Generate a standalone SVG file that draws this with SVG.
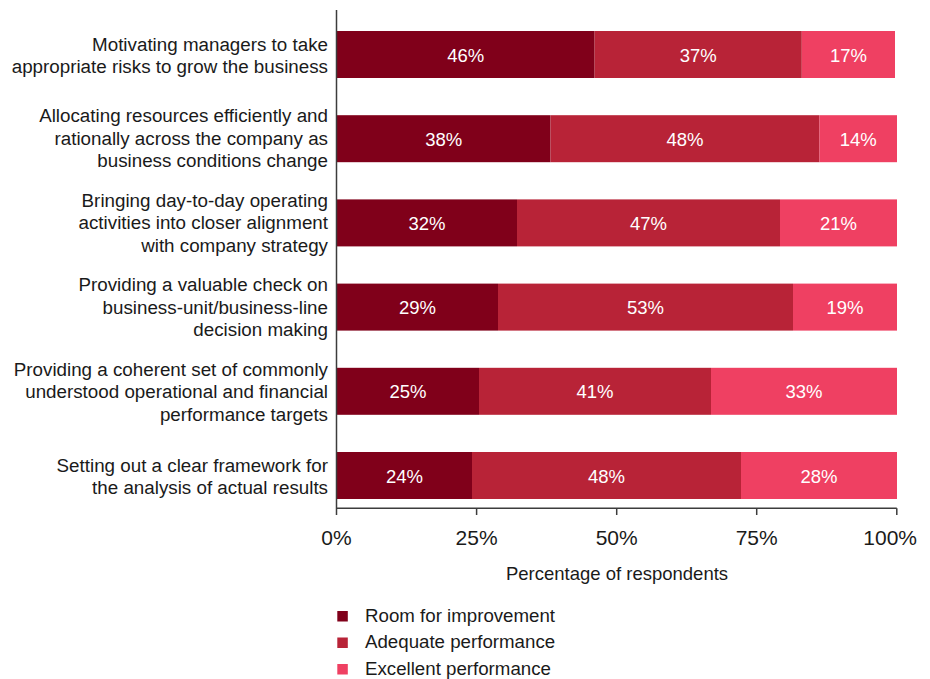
<svg xmlns="http://www.w3.org/2000/svg" width="930" height="679" viewBox="0 0 930 679">
<style>
.lbl{font-family:"Liberation Sans",Arial,sans-serif;font-size:18.8px;fill:#1a1a1a;text-anchor:end}
.val{font-family:"Liberation Sans",Arial,sans-serif;font-size:18.5px;fill:#ffffff;text-anchor:middle}
.tick{font-family:"Liberation Sans",Arial,sans-serif;font-size:21px;fill:#1a1a1a;text-anchor:middle}
.ttl{font-family:"Liberation Sans",Arial,sans-serif;font-size:18.5px;fill:#1a1a1a;text-anchor:middle}
.leg{font-family:"Liberation Sans",Arial,sans-serif;font-size:18.7px;fill:#1a1a1a}
.c1{fill:#80001a}
.c2{fill:#b82337}
.c3{fill:#ef4062}
.ax{stroke:#3c3c3c;stroke-width:1.5;fill:none}
</style>
<rect width="930" height="679" fill="#ffffff"/>

<g id="row1">
<text class="lbl" x="328" y="51">Motivating managers to take</text>
<text class="lbl" x="328" y="73">appropriate risks to grow the business</text>
<rect class="c1" x="337" y="31" width="257.6" height="47"/>
<rect class="c2" x="594.6" y="31" width="207.2" height="47"/>
<rect class="c3" x="801.8" y="31" width="93.2" height="47"/>
<text class="val" x="465.8" y="61.5">46%</text>
<text class="val" x="698.2" y="61.5">37%</text>
<text class="val" x="848.4" y="61.5">17%</text>
</g>

<g id="row2">
<text class="lbl" x="328" y="122">Allocating resources efficiently and</text>
<text class="lbl" x="328" y="144.5">rationally across the company as</text>
<text class="lbl" x="328" y="167">business conditions change</text>
<rect class="c1" x="337" y="115.2" width="213.5" height="47"/>
<rect class="c2" x="550.5" y="115.2" width="269" height="47"/>
<rect class="c3" x="819.5" y="115.2" width="77.5" height="47"/>
<text class="val" x="443.8" y="145.7">38%</text>
<text class="val" x="685" y="145.7">48%</text>
<text class="val" x="858.3" y="145.7">14%</text>
</g>

<g id="row3">
<text class="lbl" x="328" y="206.5">Bringing day-to-day operating</text>
<text class="lbl" x="328" y="229">activities into closer alignment</text>
<text class="lbl" x="328" y="251.5">with company strategy</text>
<rect class="c1" x="337" y="199.4" width="180" height="47"/>
<rect class="c2" x="517" y="199.4" width="263" height="47"/>
<rect class="c3" x="780" y="199.4" width="117" height="47"/>
<text class="val" x="427" y="229.9">32%</text>
<text class="val" x="648.5" y="229.9">47%</text>
<text class="val" x="838.5" y="229.9">21%</text>
</g>

<g id="row4">
<text class="lbl" x="328" y="291">Providing a valuable check on</text>
<text class="lbl" x="328" y="313.5">business-unit/business-line</text>
<text class="lbl" x="328" y="336">decision making</text>
<rect class="c1" x="337" y="283.6" width="161" height="47"/>
<rect class="c2" x="498" y="283.6" width="295" height="47"/>
<rect class="c3" x="793" y="283.6" width="104" height="47"/>
<text class="val" x="417.5" y="314.1">29%</text>
<text class="val" x="645.5" y="314.1">53%</text>
<text class="val" x="845" y="314.1">19%</text>
</g>

<g id="row5">
<text class="lbl" x="328" y="375.5">Providing a coherent set of commonly</text>
<text class="lbl" x="328" y="398">understood operational and financial</text>
<text class="lbl" x="328" y="420.5">performance targets</text>
<rect class="c1" x="337" y="367.8" width="142" height="47"/>
<rect class="c2" x="479" y="367.8" width="232" height="47"/>
<rect class="c3" x="711" y="367.8" width="186" height="47"/>
<text class="val" x="408" y="398.3">25%</text>
<text class="val" x="595" y="398.3">41%</text>
<text class="val" x="804" y="398.3">33%</text>
</g>

<g id="row6">
<text class="lbl" x="328" y="471.5">Setting out a clear framework for</text>
<text class="lbl" x="328" y="493.5">the analysis of actual results</text>
<rect class="c1" x="337" y="452" width="135" height="47"/>
<rect class="c2" x="472" y="452" width="269" height="47"/>
<rect class="c3" x="741" y="452" width="156" height="47"/>
<text class="val" x="404.5" y="482.5">24%</text>
<text class="val" x="606.5" y="482.5">48%</text>
<text class="val" x="819" y="482.5">28%</text>
</g>

<g id="axes">
<path class="ax" d="M336.5 10 V515"/>
<path class="ax" d="M336.5 508.3 H896.8"/>
<path class="ax" d="M476.6 508.3 V515 M616.7 508.3 V515 M756.7 508.3 V515 M896.8 508.3 V515"/>
<text class="tick" x="336.5" y="545">0%</text>
<text class="tick" x="476.6" y="545">25%</text>
<text class="tick" x="616.7" y="545">50%</text>
<text class="tick" x="756.7" y="545">75%</text>
<text class="tick" x="917" y="545" style="text-anchor:end">100%</text>
<text class="ttl" x="617" y="580">Percentage of respondents</text>
</g>

<g id="legend">
<rect class="c1" x="337.3" y="611" width="10.5" height="10.5"/>
<text class="leg" x="365" y="622.3">Room for improvement</text>
<rect class="c2" x="337.3" y="637.5" width="10.5" height="10.5"/>
<text class="leg" x="365" y="648.3">Adequate performance</text>
<rect class="c3" x="337.3" y="664" width="10.5" height="10.5"/>
<text class="leg" x="365" y="674.5">Excellent performance</text>
</g>
</svg>
